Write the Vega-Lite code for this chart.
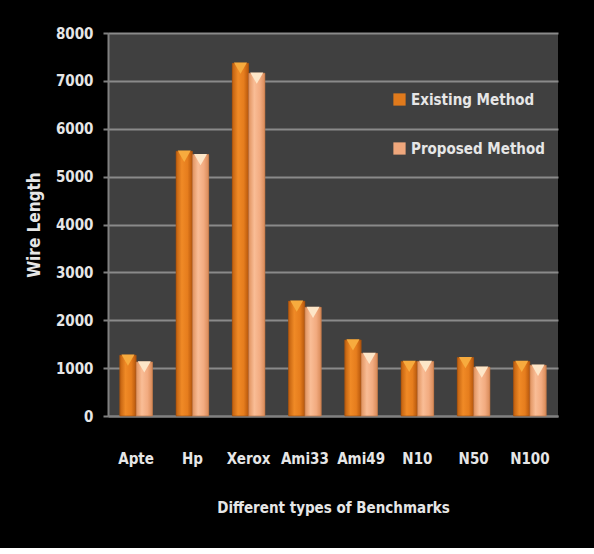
{
  "$schema": "https://vega.github.io/schema/vega-lite/v6.json",
  "autosize": {"type": "none"},
  "width": 450,
  "height": 383,
  "padding": {"left": 108, "top": 33, "right": 36, "bottom": 132},
  "background": "#000000",
  "data": {
    "values": [
      {"benchmark": "Apte", "method": "Existing Method", "wire": 1270},
      {"benchmark": "Apte", "method": "Proposed Method", "wire": 1130},
      {"benchmark": "Hp", "method": "Existing Method", "wire": 5530},
      {"benchmark": "Hp", "method": "Proposed Method", "wire": 5460},
      {"benchmark": "Xerox", "method": "Existing Method", "wire": 7370},
      {"benchmark": "Xerox", "method": "Proposed Method", "wire": 7160},
      {"benchmark": "Ami33", "method": "Existing Method", "wire": 2400},
      {"benchmark": "Ami33", "method": "Proposed Method", "wire": 2270},
      {"benchmark": "Ami49", "method": "Existing Method", "wire": 1590},
      {"benchmark": "Ami49", "method": "Proposed Method", "wire": 1310},
      {"benchmark": "N10", "method": "Existing Method", "wire": 1140},
      {"benchmark": "N10", "method": "Proposed Method", "wire": 1140},
      {"benchmark": "N50", "method": "Existing Method", "wire": 1220},
      {"benchmark": "N50", "method": "Proposed Method", "wire": 1020},
      {"benchmark": "N100", "method": "Existing Method", "wire": 1140},
      {"benchmark": "N100", "method": "Proposed Method", "wire": 1060}
    ]
  },
  "encoding": {
    "x": {
      "field": "benchmark", "type": "nominal", "sort": null,
      "scale": {"paddingInner": 0.42, "paddingOuter": 0.21},
      "axis": {
        "title": "Different types of Benchmarks",
        "labelAngle": 0, "ticks": false, "domain": true,
        "domainColor": "#808080", "domainWidth": 2,
        "labelPadding": 35, "titlePadding": 34,
        "labelFont": "DejaVu Sans Condensed", "labelFontWeight": "bold", "labelFontSize": 15, "labelColor": "#e6e6e6",
        "titleFont": "DejaVu Sans Condensed", "titleFontWeight": "bold", "titleFontSize": 15, "titleColor": "#e6e6e6"
      }
    },
    "xOffset": {"field": "method", "type": "nominal", "scale": {"paddingInner": 0, "paddingOuter": 0}},
    "y": {
      "field": "wire", "type": "quantitative",
      "scale": {"domain": [0, 8000], "nice": false},
      "axis": {
        "title": "Wire Length", "values": [0,1000,2000,3000,4000,5000,6000,7000,8000], "labelOverlap": false,
        "format": "d", "grid": true, "gridColor": "#8a8a8a", "gridWidth": 2,
        "domain": true, "domainColor": "#808080", "domainWidth": 2,
        "ticks": true, "tickColor": "#808080", "tickWidth": 2, "tickSize": 5,
        "labelPadding": 10,
        "labelFont": "DejaVu Sans Condensed", "labelFontWeight": "bold", "labelFontSize": 15, "labelColor": "#e6e6e6",
        "titleFont": "DejaVu Sans Condensed", "titleFontWeight": "bold", "titleFontSize": 17, "titleColor": "#e6e6e6",
        "titlePadding": 12
      }
    }
  },
  "layer": [
    {
      "mark": {"type": "bar"},
      "encoding": {
        "color": {
          "field": "method", "type": "nominal",
          "scale": {"domain": ["Existing Method", "Proposed Method"], "range": ["#e07a1c", "#efa77c"]},
          "legend": {
            "title": null, "orient": "none", "legendX": 284, "legendY": 59,
            "symbolType": "square", "symbolSize": 150, "symbolStrokeWidth": 0,
            "rowPadding": 33, "labelOffset": 4,
            "labelFont": "DejaVu Sans Condensed", "labelFontWeight": "bold", "labelFontSize": 15, "labelColor": "#e6e6e6"
          }
        }
      }
    },
    {
      "transform": [{"filter": "datum.method === 'Existing Method'"}],
      "mark": {
        "type": "bar",
        "fill": {"x1": 0, "x2": 1, "y1": 0, "y2": 0, "gradient": "linear",
          "stops": [{"offset": 0, "color": "#c0600f"}, {"offset": 0.35, "color": "#f08a26"}, {"offset": 0.7, "color": "#e67d1d"}, {"offset": 1, "color": "#b5560c"}]},
        "stroke": "#9a4a0c", "strokeWidth": 0.6
      }
    },
    {
      "transform": [{"filter": "datum.method === 'Proposed Method'"}],
      "mark": {
        "type": "bar",
        "fill": {"x1": 0, "x2": 1, "y1": 0, "y2": 0, "gradient": "linear",
          "stops": [{"offset": 0, "color": "#e0925e"}, {"offset": 0.35, "color": "#f9bd96"}, {"offset": 0.7, "color": "#f2ab80"}, {"offset": 1, "color": "#d88a58"}]},
        "stroke": "#b8703f", "strokeWidth": 0.6
      }
    },
    {
      "transform": [{"filter": "datum.method === 'Existing Method'"}],
      "mark": {"type": "point", "shape": "triangle-down", "filled": true, "size": 170, "color": "#f7ab3e", "opacity": 1, "yOffset": 5}
    },
    {
      "transform": [{"filter": "datum.method === 'Proposed Method'"}],
      "mark": {"type": "point", "shape": "triangle-down", "filled": true, "size": 170, "color": "#fde6c8", "opacity": 1, "yOffset": 5}
    }
  ],
  "config": {
    "view": {"fill": "#404040", "stroke": null}
  }
}
